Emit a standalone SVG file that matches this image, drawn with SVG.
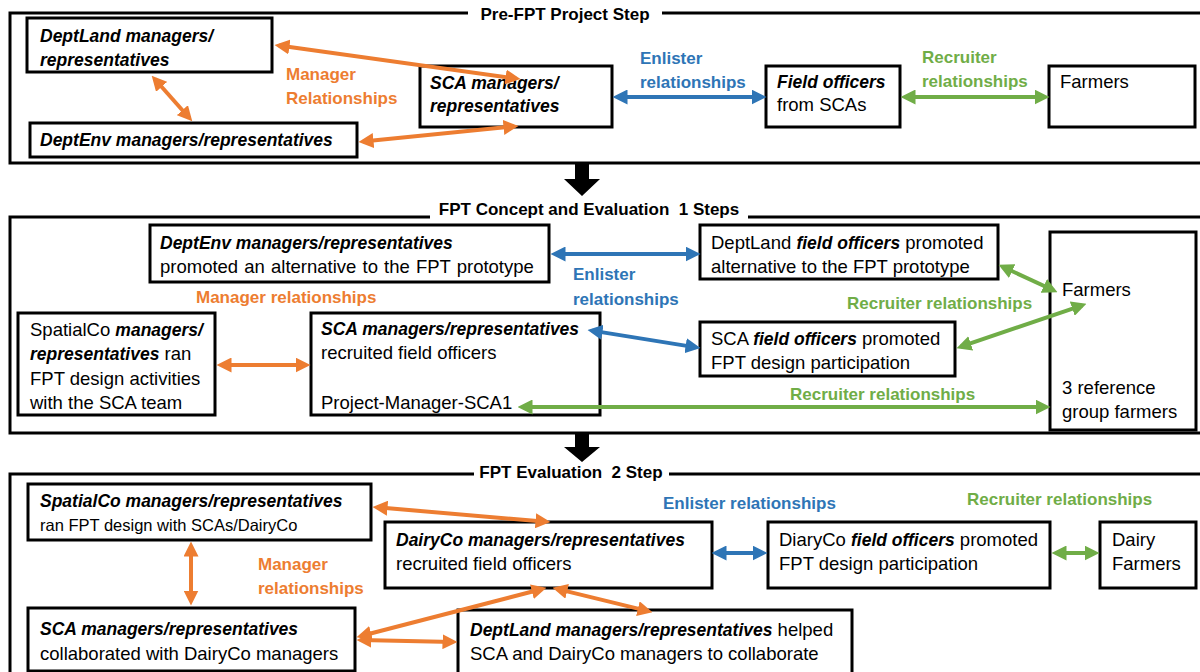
<svg xmlns="http://www.w3.org/2000/svg" width="1200" height="672" viewBox="0 0 1200 672">
<defs>
<style>
text{font-family:"Liberation Sans",Arial,sans-serif;font-size:18.5px;fill:#000}
.bi{font-weight:bold;font-style:italic;font-size:17.5px}
.t{font-weight:bold;font-size:17px}
.sm{font-size:16.5px}
.sec{fill:none;stroke:#000;stroke-width:3}
.node{fill:#fff;stroke:#000;stroke-width:3}
.lo{fill:#ED7D31;font-weight:bold;font-size:17px}
.lb{fill:#2E75B6;font-weight:bold;font-size:17px}
.lg{fill:#70AD47;font-weight:bold;font-size:17px}
.ao{stroke:#ED7D31;stroke-width:4;fill:none;marker-start:url(#mo);marker-end:url(#mo)}
.ab{stroke:#2E75B6;stroke-width:4;fill:none;marker-start:url(#mb);marker-end:url(#mb)}
.ag{stroke:#70AD47;stroke-width:4;fill:none;marker-start:url(#mg);marker-end:url(#mg)}
</style>
<marker id="mo" viewBox="0 0 10 10" refX="7" refY="5" markerWidth="15" markerHeight="15" markerUnits="userSpaceOnUse" orient="auto-start-reverse"><path d="M0,0 L10,5 L0,10 z" fill="#ED7D31"/></marker>
<marker id="mb" viewBox="0 0 10 10" refX="7" refY="5" markerWidth="15" markerHeight="15" markerUnits="userSpaceOnUse" orient="auto-start-reverse"><path d="M0,0 L10,5 L0,10 z" fill="#2E75B6"/></marker>
<marker id="mg" viewBox="0 0 10 10" refX="7" refY="5" markerWidth="15" markerHeight="15" markerUnits="userSpaceOnUse" orient="auto-start-reverse"><path d="M0,0 L10,5 L0,10 z" fill="#70AD47"/></marker>
</defs>
<rect width="1200" height="672" fill="#fff"/>

<g id="sections">
<rect class="sec" x="10" y="13" width="1200" height="150"/>
<rect x="468" y="4" width="194" height="20" fill="#fff"/>
<text class="t" x="565" y="20" text-anchor="middle">Pre-FPT Project Step</text>
<rect class="sec" x="10" y="217" width="1200" height="216"/>
<rect x="430" y="200" width="318" height="22" fill="#fff"/>
<text class="t" x="589" y="215" text-anchor="middle" xml:space="preserve">FPT Concept and Evaluation  1 Steps</text>
<rect class="sec" x="10" y="474" width="1200" height="230"/>
<rect x="474" y="462" width="195" height="20" fill="#fff"/>
<text class="t" x="571" y="478" text-anchor="middle" xml:space="preserve">FPT Evaluation  2 Step</text>
<path d="M575,164 L589,164 L589,179 L600,179 L582,196 L564,179 L575,179 Z" fill="#000"/>
<path d="M575,434 L589,434 L589,447 L600,447 L582,462 L564,447 L575,447 Z" fill="#000"/>
</g>

<g id="n1-deptland">
<rect class="node" x="27" y="18" width="245" height="54"/>
<text class="bi" x="40" y="42">DeptLand managers/</text>
<text class="bi" x="40" y="66">representatives</text>
</g>
<g id="n1-deptenv">
<rect class="node" x="30" y="123" width="327" height="34"/>
<text class="bi" x="40" y="146">DeptEnv managers/representatives</text>
</g>
<g id="n1-sca">
<rect class="node" x="420" y="66" width="192" height="61"/>
<text class="bi" x="430" y="89">SCA managers/</text>
<text class="bi" x="430" y="112">representatives</text>
</g>
<g id="n1-fo">
<rect class="node" x="766" y="66" width="134" height="61"/>
<text class="bi" x="777" y="88">Field officers</text>
<text x="777" y="111">from SCAs</text>
</g>
<g id="n1-farmers">
<rect class="node" x="1049" y="66" width="146" height="61"/>
<text x="1060" y="88">Farmers</text>
</g>

<g id="n2-deptenv">
<rect class="node" x="150" y="225" width="399" height="57"/>
<text class="bi" x="160" y="249">DeptEnv managers/representatives</text>
<text x="160" y="273" word-spacing="1">promoted an alternative to the FPT prototype</text>
</g>
<g id="n2-deptland-fo">
<rect class="node" x="700" y="225" width="298" height="54"/>
<text x="711" y="249">DeptLand <tspan class="bi">field officers</tspan> promoted</text>
<text x="711" y="273">alternative to the FPT prototype</text>
</g>
<g id="n2-spatialco">
<rect class="node" x="18" y="313" width="197" height="102"/>
<text x="30" y="336">SpatialCo <tspan class="bi">managers/</tspan></text>
<text x="30" y="360"><tspan class="bi">representatives</tspan>  ran</text>
<text x="30" y="385">FPT design activities</text>
<text x="30" y="409">with the SCA team</text>
</g>
<g id="n2-sca">
<rect class="node" x="311" y="313" width="289" height="102"/>
<text class="bi" x="321" y="335">SCA managers/representatives</text>
<text x="321" y="359">recruited field officers</text>
<text x="321" y="409">Project-Manager-SCA1</text>
</g>
<g id="n2-sca-fo">
<rect class="node" x="700" y="322" width="255" height="54"/>
<text x="711" y="345">SCA <tspan class="bi">field officers</tspan> promoted</text>
<text x="711" y="369">FPT design participation</text>
</g>
<g id="n2-farmers">
<rect class="node" x="1050" y="232" width="146" height="198"/>
<text x="1062" y="296">Farmers</text>
<text x="1062" y="394">3 reference</text>
<text x="1062" y="418">group farmers</text>
</g>

<g id="n3-spatialco">
<rect class="node" x="28" y="484" width="343" height="56"/>
<text class="bi" x="40" y="507">SpatialCo managers/representatives</text>
<text class="sm" x="40" y="531">ran FPT design with SCAs/DairyCo</text>
</g>
<g id="n3-dairyco">
<rect class="node" x="385" y="522" width="327" height="66"/>
<text class="bi" x="396" y="546">DairyCo managers/representatives</text>
<text x="396" y="570">recruited field officers</text>
</g>
<g id="n3-diaryco-fo">
<rect class="node" x="768" y="522" width="282" height="66"/>
<text x="779" y="546">DiaryCo <tspan class="bi">field officers</tspan> promoted</text>
<text x="779" y="570">FPT design participation</text>
</g>
<g id="n3-dairy-farmers">
<rect class="node" x="1100" y="522" width="96" height="66"/>
<text x="1112" y="546">Dairy</text>
<text x="1112" y="570">Farmers</text>
</g>
<g id="n3-sca">
<rect class="node" x="28" y="608" width="327" height="63"/>
<text class="bi" x="40" y="635">SCA managers/representatives</text>
<text x="40" y="660">collaborated with DairyCo managers</text>
</g>
<g id="n3-deptland">
<rect class="node" x="458" y="610" width="394" height="70"/>
<text x="470" y="636"><tspan class="bi">DeptLand managers/representatives</tspan>  helped</text>
<text x="470" y="660">SCA and DairyCo managers to collaborate</text>
</g>

<g id="connectors">
<line class="ao" x1="279" y1="45.5" x2="516" y2="78.5"/>
<line class="ao" x1="154.7" y1="79" x2="189.3" y2="118"/>
<line class="ao" x1="363" y1="141.6" x2="514" y2="126.4"/>
<line class="ab" x1="617" y1="97" x2="762" y2="97"/>
<line class="ag" x1="905" y1="97" x2="1045" y2="97"/>
<line class="ab" x1="555" y1="254" x2="696" y2="254"/>
<line class="ao" x1="221" y1="365" x2="306" y2="365"/>
<line class="ab" x1="592" y1="330.6" x2="696" y2="347.4"/>
<line class="ag" x1="1002.6" y1="266.7" x2="1053.4" y2="290.3"/>
<line class="ag" x1="960.8" y1="346.7" x2="1082.2" y2="305.3"/>
<line class="ag" x1="522" y1="407" x2="1046" y2="407"/>
<line class="ao" x1="377" y1="507.3" x2="546" y2="521.7"/>
<line class="ao" x1="191" y1="546" x2="191" y2="601"/>
<line class="ao" x1="360.9" y1="636" x2="542.1" y2="589"/>
<line class="ao" x1="361" y1="640.1" x2="453" y2="641.9"/>
<line class="ao" x1="556.9" y1="588.9" x2="648.1" y2="611.1"/>
<line class="ab" x1="716" y1="553" x2="763" y2="553"/>
<line class="ag" x1="1056" y1="553" x2="1095" y2="553"/>
<text class="lo" x="286" y="80">Manager</text>
<text class="lo" x="286" y="104">Relationships</text>
<text class="lb" x="640" y="64">Enlister</text>
<text class="lb" x="640" y="88">relationships</text>
<text class="lg" x="922" y="63">Recruiter</text>
<text class="lg" x="922" y="87">relationships</text>
<text class="lb" x="573" y="280">Enlister</text>
<text class="lb" x="573" y="305">relationships</text>
<text class="lo" x="196" y="303">Manager relationships</text>
<text class="lg" x="847" y="309">Recruiter relationships</text>
<text class="lg" x="790" y="400">Recruiter relationships</text>
<text class="lb" x="663" y="509">Enlister relationships</text>
<text class="lg" x="967" y="505">Recruiter relationships</text>
<text class="lo" x="258" y="570">Manager</text>
<text class="lo" x="258" y="594">relationships</text>
</g>
</svg>
